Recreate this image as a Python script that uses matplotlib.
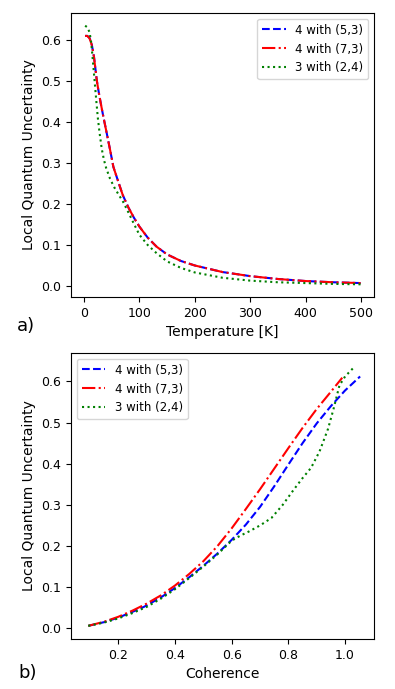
import matplotlib.pyplot as plt

# a) LQU vs temperature
temp_53 = [2, 6, 10, 14, 18, 23, 26, 30, 35, 40, 47, 53, 63, 70, 80, 90, 100,
           115, 131, 150, 175, 200, 250, 300, 350, 400, 450, 500]
lqu_53 = [0.611, 0.611, 0.606, 0.59, 0.56, 0.503, 0.478, 0.448, 0.413, 0.38,
          0.333, 0.291, 0.25, 0.222, 0.192, 0.167, 0.145, 0.118, 0.096, 0.077,
          0.061, 0.050, 0.034, 0.024, 0.017, 0.012, 0.009, 0.007]
temp_73 = temp_53
lqu_73 = [0.611, 0.611, 0.605, 0.589, 0.559, 0.503, 0.478, 0.448, 0.413, 0.38,
          0.333, 0.291, 0.25, 0.222, 0.192, 0.167, 0.145, 0.118, 0.096, 0.077,
          0.061, 0.050, 0.034, 0.024, 0.017, 0.012, 0.009, 0.007]
temp_24 = [2, 6, 10, 13, 16, 20, 22, 25, 28, 32, 36, 40, 47, 55, 63, 70, 80,
           90, 100, 115, 131, 150, 175, 200, 250, 300, 350, 400, 450, 500]
lqu_24 = [0.636, 0.632, 0.62, 0.595, 0.55, 0.487, 0.455, 0.41, 0.375, 0.335,
          0.308, 0.288, 0.262, 0.24, 0.222, 0.207, 0.18, 0.152, 0.125, 0.1,
          0.08, 0.06, 0.044, 0.033, 0.02, 0.013, 0.009, 0.007, 0.005, 0.004]

# b) LQU vs coherence
coh_53 = [0.094, 0.15, 0.2, 0.25, 0.29, 0.35, 0.4, 0.45, 0.5, 0.55, 0.6, 0.65,
          0.7, 0.75, 0.8, 0.85, 0.9, 0.95, 1.0, 1.053]
lqu_b_53 = [0.006, 0.015, 0.026, 0.04, 0.052, 0.075, 0.098, 0.124, 0.152,
            0.182, 0.215, 0.252, 0.295, 0.345, 0.398, 0.45, 0.498, 0.54, 0.578,
            0.612]
coh_73 = [0.094, 0.15, 0.2, 0.25, 0.3, 0.35, 0.4, 0.45, 0.5, 0.55, 0.6, 0.65,
          0.7, 0.75, 0.8, 0.85, 0.9, 0.95, 0.99]
lqu_b_73 = [0.006, 0.016, 0.028, 0.043, 0.06, 0.08, 0.104, 0.132, 0.163, 0.2,
            0.243, 0.29, 0.338, 0.388, 0.438, 0.487, 0.533, 0.575, 0.609]
coh_24 = [0.094, 0.15, 0.2, 0.25, 0.3, 0.35, 0.4, 0.45, 0.5, 0.55, 0.6, 0.63,
          0.66, 0.7, 0.74, 0.78, 0.82, 0.85, 0.88, 0.91, 0.94, 0.96, 0.98, 1.0,
          1.035]
lqu_b_24 = [0.006, 0.014, 0.024, 0.037, 0.052, 0.072, 0.095, 0.122, 0.15,
            0.18, 0.213, 0.225, 0.235, 0.25, 0.268, 0.3, 0.338, 0.365, 0.39,
            0.43, 0.485, 0.535, 0.59, 0.612, 0.637]

labels = ["4 with (5,3)", "4 with (7,3)", "3 with (2,4)"]

fig = plt.figure(figsize=(3.95, 6.89), dpi=100)

ax1 = fig.add_axes([71 / 395, 1 - 297 / 689, 303 / 395, 284 / 689])
ax1.plot(temp_53, lqu_53, color="b", linestyle="--", label=labels[0])
ax1.plot(temp_73, lqu_73, color="r", linestyle="-.", label=labels[1])
ax1.plot(temp_24, lqu_24, color="g", linestyle=":", label=labels[2])
ax1.set_xlim(-23.5, 523.5)
ax1.set_ylim(-0.027, 0.667)
ax1.set_xticks([0, 100, 200, 300, 400, 500])
ax1.set_yticks([0.0, 0.1, 0.2, 0.3, 0.4, 0.5, 0.6])
ax1.set_xlabel("Temperature [K]", fontsize=10)
ax1.set_ylabel("Local Quantum Uncertainty", fontsize=10)
ax1.tick_params(labelsize=9)
ax1.legend(loc="upper right", fontsize=8.5)
fig.text(17 / 395, 1 - 326 / 689, "a)", fontsize=13, va="center")

ax2 = fig.add_axes([71 / 395, 1 - 639 / 689, 303 / 395, 286 / 689])
ax2.plot(coh_53, lqu_b_53, color="b", linestyle="--", label=labels[0])
ax2.plot(coh_73, lqu_b_73, color="r", linestyle="-.", label=labels[1])
ax2.plot(coh_24, lqu_b_24, color="g", linestyle=":", label=labels[2])
ax2.set_xlim(0.033, 1.102)
ax2.set_ylim(-0.026, 0.669)
ax2.set_xticks([0.2, 0.4, 0.6, 0.8, 1.0])
ax2.set_yticks([0.0, 0.1, 0.2, 0.3, 0.4, 0.5, 0.6])
ax2.set_xlabel("Coherence", fontsize=10)
ax2.set_ylabel("Local Quantum Uncertainty", fontsize=10)
ax2.tick_params(labelsize=9)
ax2.legend(loc="upper left", fontsize=8.5)
fig.text(18 / 395, 1 - 673 / 689, "b)", fontsize=13, va="center")

fig.savefig("out.png", dpi=100)
